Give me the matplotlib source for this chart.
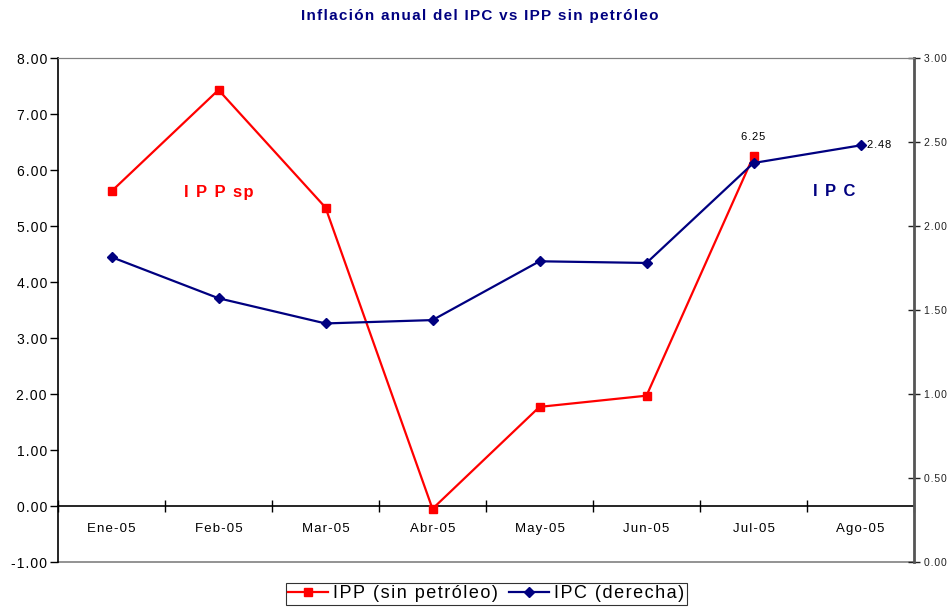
import matplotlib
matplotlib.use("Agg")
import matplotlib.pyplot as plt
import numpy as np

plt.rcParams['font.family'] = ['Liberation Sans', 'DejaVu Sans']

months = ["Ene-05", "Feb-05", "Mar-05", "Abr-05", "May-05", "Jun-05", "Jul-05", "Ago-05"]
ipp = [5.62, 7.43, 5.33, -0.05, 1.77, 1.97, 6.25, np.nan]
ipc = [1.815, 1.57, 1.42, 1.44, 1.79, 1.78, 2.375, 2.48]
title = "Inflación anual del IPC vs IPP sin petróleo"
name_ipp = "IPP (sin petróleo)"
name_ipc = "IPC (derecha)"

RED = "#ff0000"
NAVY = "#000080"
HS = "\u200a"


def sp(s, n=1):
    return (HS * n).join(s)


fig = plt.figure(figsize=(9.5, 6.09), dpi=100)
ax = fig.add_axes([58/950, 1-562/609, (914-58)/950, (562-58)/609])
ax2 = ax.twinx()

x = np.arange(len(months))
l1, = ax.plot(x, ipp, color=RED, lw=1.6, marker='s', ms=5.5, zorder=3)
l2, = ax2.plot(x, ipc, color=NAVY, lw=1.6, marker='D', ms=5, zorder=3)

ax.set_xlim(-0.5, len(months) - 0.5)
ax.set_ylim(-1, 8)
ax.set_yticks(np.arange(-1, 9, 1))
ax.set_yticklabels([sp(f"{v:.2f}") for v in np.arange(-1, 9, 1)], fontsize=10)
ax.tick_params(axis='y', direction='out', length=6, width=1, pad=2)

ax2.set_ylim(0, 3)
ax2.set_yticks(np.arange(0, 3.01, 0.5))
ax2.set_yticklabels([sp(f"{v:.2f}") for v in np.arange(0, 3.01, 0.5)], fontsize=7.5)
ax2.tick_params(axis='y', direction='inout', length=8, width=1, pad=3, colors='#222222')

# x axis at y=0
ax.spines['bottom'].set_position(('data', 0))
ax.spines['bottom'].set_linewidth(1.2)
ax.set_xticks(x)
ax.set_xticklabels([sp(m) for m in months], fontsize=9.5)
ax.tick_params(axis='x', length=0, pad=12)
ax.set_xticks(np.arange(-0.5, len(months), 1), minor=True)
ax.tick_params(axis='x', which='minor', direction='inout', length=8, width=1)

for a in (ax, ax2):
    a.spines['top'].set_color('#808080')
    a.spines['top'].set_linewidth(0.8)
ax2.spines['bottom'].set_visible(False)
ax.spines['left'].set_linewidth(1.2)
ax2.spines['left'].set_visible(False)
ax2.spines['right'].set_color('#555555')
ax2.spines['right'].set_linewidth(2)
ax.spines['right'].set_visible(False)
ax.axhline(-1, color='#808080', lw=1.2, clip_on=False, zorder=1)

# annotations
ax.annotate(sp(f"{ipp[6]:.2f}"), (x[6], ipp[6]), xytext=(0, 10), textcoords='offset points',
            ha='center', va='bottom', fontsize=8)
ax2.annotate(sp(f"{ipc[7]:.2f}"), (x[7], ipc[7]), xytext=(5, 0), textcoords='offset points',
             ha='left', va='center', fontsize=8)
ax.text(1, 5.6, sp("I P P sp"), color=RED, fontsize=12, fontweight='bold', ha='center', va='center')
ax.text(6.75, 5.62, sp("I P C"), color=NAVY, fontsize=12, fontweight='bold', ha='center', va='center')

fig.suptitle(sp(title), x=0.505, y=0.985,
             fontsize=11, fontweight='bold', color=NAVY)

leg = fig.legend([l1, l2], [sp(name_ipp), sp(name_ipc)], loc='center',
                 bbox_to_anchor=(0.512, 0.025), ncol=2, fontsize=13, frameon=True,
                 fancybox=False, edgecolor='black', handlelength=2.2, handletextpad=0.3,
                 columnspacing=0.6, borderpad=0.15, borderaxespad=0)
leg.get_frame().set_linewidth(0.8)

fig.savefig("out.png", dpi=100)
